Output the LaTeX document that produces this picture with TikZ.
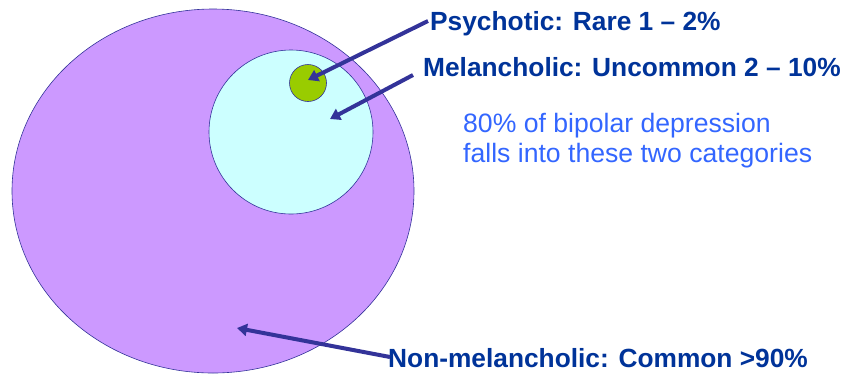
\documentclass[tikz,border=0pt]{standalone}
\usepackage{fontspec}
\setmainfont{Liberation Sans}
\usetikzlibrary{arrows.meta,shapes.geometric}
\definecolor{purplefill}{RGB}{204,153,255}
\definecolor{cyanfill}{RGB}{204,255,255}
\definecolor{greenfill}{RGB}{153,204,0}
\definecolor{edgecol}{RGB}{51,51,153}
\definecolor{darkblue}{RGB}{0,51,153}
\definecolor{lightblue}{RGB}{51,102,255}
\tikzset{
  region/.style={draw=edgecol, line width=0.6pt},
  pointer/.style={draw=edgecol, line width=4pt, -{Triangle[length=10pt,width=12pt]}},
  label/.style={font=\fontsize{26.3}{30}\selectfont\bfseries, text=darkblue, anchor=base west, inner sep=0pt},
  note/.style={font=\fontsize{26.6}{30}\selectfont, text=lightblue, anchor=base west, inner sep=0pt, align=left},
}
\begin{document}
\begin{tikzpicture}[x=1pt,y=-1pt]
\useasboundingbox (0,0) rectangle (846,376);
\node[region, fill=purplefill, ellipse, minimum width=402pt, minimum height=364pt, inner sep=0pt] (big) at (213,191) {};
\node[region, fill=cyanfill, ellipse, minimum width=164pt, minimum height=164pt, inner sep=0pt] (mel) at (291,132) {};
\node[region, fill=greenfill, circle, minimum size=37pt, inner sep=0pt] (psy) at (308,83) {};
\node[label] (tpsy) at (430,30) {Psychotic: Rare 1 – 2\%};
\node[label] (tmel) at (423,76) {Melancholic: Uncommon 2 – 10\%};
\node[note] (tnote1) at (463,132) {80\% of bipolar depression};
\node[note] (tnote2) at (463,162) {falls into these two categories};
\node[label] (tnon) at (388,367) {Non-melancholic: Common >90\%};
\coordinate (psystart) at (428,21);
\coordinate (melstart) at (413,75);
\coordinate (nonstart) at (390,357);
\coordinate (psytip) at (308,80);
\coordinate (meltip) at (330,119);
\coordinate (nontip) at (237,328);
\draw[pointer] (psystart) -- (psytip);
\draw[pointer] (melstart) -- (meltip);
\draw[pointer] (nonstart) -- (nontip);
\end{tikzpicture}
\end{document}
